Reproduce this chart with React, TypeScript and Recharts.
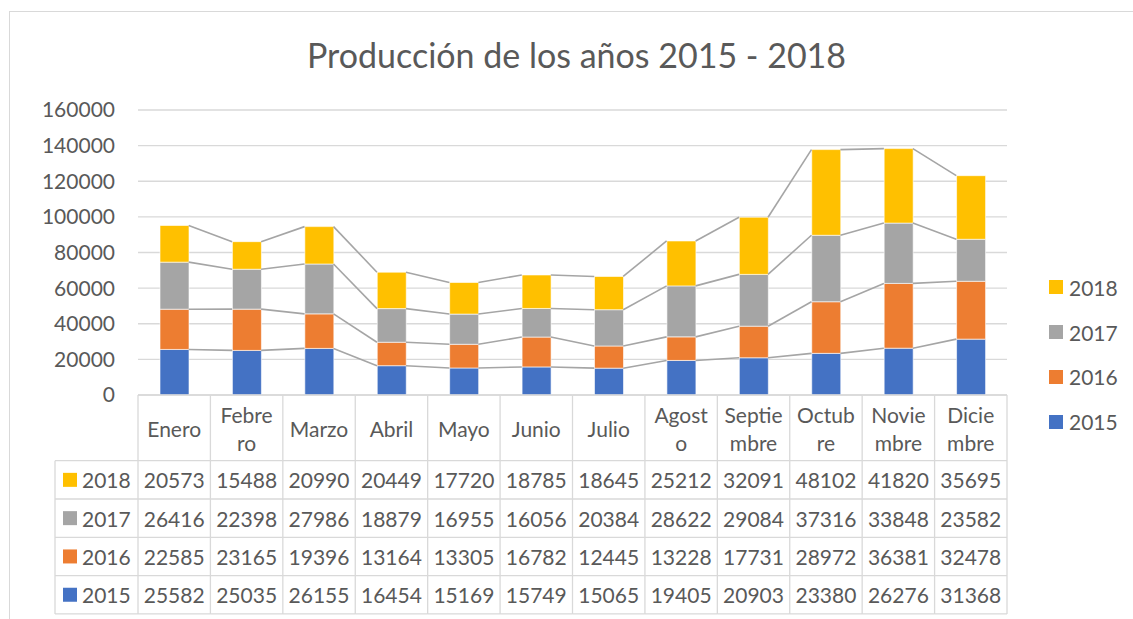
import React from 'react';
import { ComposedChart, Bar, Line, XAxis, YAxis, CartesianGrid } from 'recharts';

const months = [
  'Enero', 'Febrero', 'Marzo', 'Abril', 'Mayo', 'Junio',
  'Julio', 'Agosto', 'Septiembre', 'Octubre', 'Noviembre', 'Diciembre',
];
// how Excel wrapped the category names in the data table
const monthLines = [
  ['Enero'], ['Febre', 'ro'], ['Marzo'], ['Abril'], ['Mayo'], ['Junio'],
  ['Julio'], ['Agost', 'o'], ['Septie', 'mbre'], ['Octub', 're'], ['Novie', 'mbre'], ['Dicie', 'mbre'],
];

const v2015 = [25582, 25035, 26155, 16454, 15169, 15749, 15065, 19405, 20903, 23380, 26276, 31368];
const v2016 = [22585, 23165, 19396, 13164, 13305, 16782, 12445, 13228, 17731, 28972, 36381, 32478];
const v2017 = [26416, 22398, 27986, 18879, 16955, 16056, 20384, 28622, 29084, 37316, 33848, 23582];
const v2018 = [20573, 15488, 20990, 20449, 17720, 18785, 18645, 25212, 32091, 48102, 41820, 35695];

const years = ['2015', '2016', '2017', '2018'];
const yearValues = [v2015, v2016, v2017, v2018];
const yearColors = ['#4472C4', '#ED7D31', '#A5A5A5', '#FFC000'];

const yTicks = [0, 20000, 40000, 60000, 80000, 100000, 120000, 140000, 160000];

const data = months.map((m, i) => {
  const row: Record<string, number | string> = { month: m };
  let cum = 0;
  years.forEach((y, k) => {
    cum += yearValues[k][i];
    row['v' + y] = yearValues[k][i];
    row['c' + y] = cum;
  });
  return row;
});

const FONT = 'Lato, "Open Sans", sans-serif';
const TEXT = '#595959';
const BORDER = '#D9D9D9';
const BAR_SIZE = 29;
const HEADER_H = 65.7;
const ROW_H = 38.3;

// series lines: connect right edge of one bar to left edge of the next at each stack level
const seen: Record<string, { x: number; y: number }[]> = {};
const connector = (key: string) => (props: any) => {
  const { cx, cy, index, points } = props;
  if (!seen[key]) seen[key] = [];
  seen[key][index] = { x: cx, y: cy };
  const prev = points && points[index - 1] ? points[index - 1] : seen[key][index - 1];
  if (index === 0 || !prev) return <g key={`${key}-${index}`} />;
  return (
    <line
      key={`${key}-${index}`}
      x1={prev.x + BAR_SIZE / 2}
      y1={prev.y}
      x2={cx - BAR_SIZE / 2}
      y2={cy}
      stroke="#A5A5A5"
      strokeWidth={1.6}
    />
  );
};

// data table drawn under the plot, one column per category tick
const TableTick = (props: any) => {
  const { x, y, payload, index } = props;
  const half = payload && payload.offset ? payload.offset : 869 / 24;
  const left = x - half;
  const right = x + half;
  const bottom = y + HEADER_H + ROW_H * 4;
  const lines = monthLines[index] || [payload.value];
  const rows = [3, 2, 1, 0];
  const textStyle = { fontFamily: FONT, fontSize: 21, fill: TEXT };
  return (
    <g>
      {lines.length === 1 ? (
        <text x={x} y={y + 33} textAnchor="middle" dominantBaseline="central" style={textStyle}>
          {lines[0]}
        </text>
      ) : (
        lines.map((l: string, k: number) => (
          <text key={k} x={x} y={y + 19 + k * 28} textAnchor="middle" dominantBaseline="central" style={textStyle}>
            {l}
          </text>
        ))
      )}
      <line x1={left} y1={y} x2={right} y2={y} stroke={BORDER} strokeWidth={1.3} />
      <line x1={right} y1={y} x2={right} y2={bottom} stroke={BORDER} strokeWidth={1.3} />
      {index === 0 && <line x1={left} y1={y} x2={left} y2={bottom} stroke={BORDER} strokeWidth={1.3} />}
      {rows.map((k, r) => {
        const top = y + HEADER_H + r * ROW_H;
        return (
          <g key={k}>
            <line x1={index === 0 ? left - 83 : left} y1={top} x2={right} y2={top} stroke={BORDER} strokeWidth={1.3} />
            <text x={x} y={top + ROW_H / 2} textAnchor="middle" dominantBaseline="central" style={textStyle}>
              {yearValues[k][index]}
            </text>
            {index === 0 && (
              <g>
                <rect x={left - 75} y={top + ROW_H / 2 - 7} width={14} height={14} fill={yearColors[k]} />
                <text x={left - 56} y={top + ROW_H / 2} dominantBaseline="central" style={textStyle}>
                  {years[k]}
                </text>
              </g>
            )}
          </g>
        );
      })}
      <line x1={index === 0 ? left - 83 : left} y1={bottom} x2={right} y2={bottom} stroke={BORDER} strokeWidth={1.3} />
      {index === 0 && (
        <line x1={left - 83} y1={y + HEADER_H} x2={left - 83} y2={bottom} stroke={BORDER} strokeWidth={1.3} />
      )}
    </g>
  );
};

const App: React.FC = () => {
  return (
    <div
      style={{
        position: 'absolute',
        left: 0,
        top: 0,
        width: 1133,
        height: 619,
        overflow: 'hidden',
        background: '#FFFFFF',
        fontFamily: FONT,
      }}
    >
      <div
        style={{
          position: 'absolute',
          left: 9,
          top: 11,
          width: 1200,
          height: 700,
          border: `1.3px solid ${BORDER}`,
        }}
      />
      <div
        style={{
          position: 'absolute',
          left: 0,
          top: 35,
          width: 1153,
          textAlign: 'center',
          fontSize: 34,
          lineHeight: '40px',
          color: TEXT,
        }}
      >
        Producción de los años 2015 - 2018
      </div>
      <div style={{ position: 'absolute', left: 0, top: 0 }}>
        <ComposedChart
          width={1133}
          height={619}
          data={data}
          margin={{ top: 110, right: 126, left: 0, bottom: 5 }}
        >
          <CartesianGrid vertical={false} stroke={BORDER} strokeWidth={1.3} />
          <YAxis
            width={138}
            domain={[0, 160000]}
            ticks={yTicks}
            axisLine={false}
            tickLine={false}
            tickSize={0}
            tickMargin={23}
            tick={{ fontSize: 21, fill: TEXT, fontFamily: FONT }}
          />
          <XAxis
            dataKey="month"
            height={219}
            interval={0}
            axisLine={false}
            tickLine={false}
            tickSize={0}
            tickMargin={0}
            tick={<TableTick />}
          />
          {years.map((y, k) => (
            <Bar
              key={y}
              dataKey={'v' + y}
              stackId="a"
              fill={yearColors[k]}
              stroke="#FFFFFF"
              strokeOpacity={0.6}
              strokeWidth={1}
              barSize={BAR_SIZE}
              isAnimationActive={false}
            />
          ))}
          {years.map((y) => (
            <Line
              key={'c' + y}
              dataKey={'c' + y}
              stroke="none"
              dot={connector('c' + y)}
              activeDot={false}
              legendType="none"
              isAnimationActive={false}
            />
          ))}
        </ComposedChart>
      </div>
      <div style={{ position: 'absolute', left: 1049, top: 265 }}>
        {[3, 2, 1, 0].map((k) => (
          <div key={k} style={{ display: 'flex', alignItems: 'center', height: 44.8, color: TEXT, fontSize: 21 }}>
            <span style={{ width: 14, height: 14, background: yearColors[k], marginRight: 6, display: 'inline-block' }} />
            <span>{years[k]}</span>
          </div>
        ))}
      </div>
    </div>
  );
};

export default App;
